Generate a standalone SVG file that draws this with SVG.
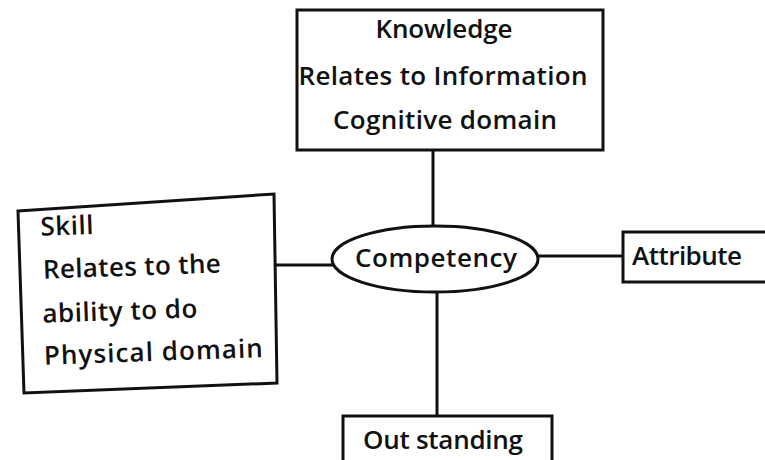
<svg xmlns="http://www.w3.org/2000/svg" width="765" height="460" viewBox="0 0 765 460">
  <style>
    .box { fill: #fff; stroke: #111; stroke-width: 3; stroke-linejoin: miter; }
    .link { stroke: #111; stroke-width: 3; fill: none; }
    .t { font-family: "Open Sans", "Lato", "Liberation Sans", sans-serif; font-size: 26px; fill: #111; font-weight: 600; }
    .c { text-anchor: middle; }
  </style>
  <rect width="765" height="460" fill="#fff"/>

  <g id="connectors">
    <line class="link" x1="433" y1="150" x2="433" y2="226"/>
    <line class="link" x1="276" y1="265" x2="334" y2="265"/>
    <line class="link" x1="537" y1="256" x2="623" y2="256"/>
    <line class="link" x1="437" y1="291" x2="437" y2="416"/>
  </g>

  <g id="knowledge">
    <rect class="box" x="297" y="10" width="306" height="140"/>
    <text class="t c" x="444" y="38" textLength="137">Knowledge</text>
    <text class="t c" x="443" y="85" textLength="289">Relates to Information</text>
    <text class="t c" x="445" y="129" textLength="224">Cognitive domain</text>
  </g>

  <g id="skill">
    <polygon class="box" points="18,211 274,194 277,383 24,393"/>
    <!-- slight tilt following the box outline -->
    <g transform="rotate(-2 150 300)">
      <text class="t" x="43" y="232" textLength="53">Skill</text>
      <text class="t" x="44" y="275" textLength="178">Relates to the</text>
      <text class="t" x="42" y="319" textLength="155">ability to do</text>
      <text class="t" x="42" y="361" textLength="219">Physical domain</text>
    </g>
  </g>

  <g id="competency">
    <ellipse class="box" cx="435" cy="259" rx="103" ry="33"/>
    <text class="t c" x="436" y="267" textLength="162">Competency</text>
  </g>

  <g id="attribute">
    <rect class="box" x="623" y="232" width="150" height="50"/>
    <text class="t" x="632" y="265" textLength="110">Attribute</text>
  </g>

  <g id="outstanding">
    <rect class="box" x="343" y="416" width="209" height="60"/>
    <text class="t c" x="443" y="449" textLength="160">Out standing</text>
  </g>
</svg>
